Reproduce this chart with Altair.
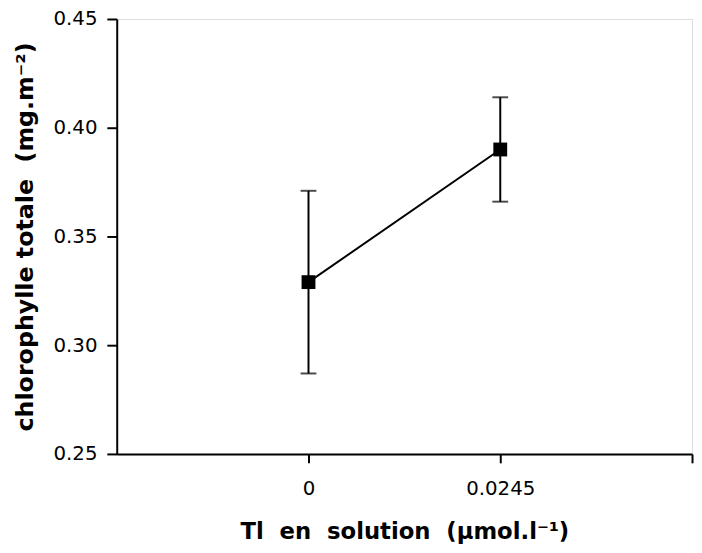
import altair as alt
import pandas as pd

# data
x_pos = [1, 2]
x_labels = ["0", "0.0245"]
means = [0.329, 0.390]
lower = [0.287, 0.366]
upper = [0.371, 0.414]

df = pd.DataFrame({"x": x_pos, "label": x_labels, "mean": means, "lo": lower, "hi": upper})

FONT = "DejaVu Sans"
NB = "\u00a0"

x_enc = alt.X(
    "x:Q",
    scale=alt.Scale(domain=[0, 3], nice=False, zero=False),
    axis=alt.Axis(
        values=[1, 2, 3],
        labelExpr="datum.value == 1 ? '0' : (datum.value == 2 ? '0.0245' : '')",
        title=f"Tl{NB} en{NB} solution{NB} (µmol.l⁻¹)",
        grid=False,
        domainColor="black",
        domainWidth=2,
        tickColor="black",
        tickWidth=2,
        tickSize=9,
        labelPadding=16,
        labelFont=FONT,
        labelFontSize=20,
        labelColor="black",
        titleFont=FONT,
        titleFontSize=23,
        titleFontWeight="bold",
        titleColor="black",
        titlePadding=23,
    ),
)

y_axis = alt.Axis(
    values=[0.25, 0.30, 0.35, 0.40, 0.45],
    format=".2f",
    title=f"chlorophylle totale{NB} (mg.m⁻²)",
    grid=False,
    domainColor="black",
    domainWidth=2,
    tickColor="black",
    tickWidth=2,
    tickSize=10,
    labelPadding=10,
    labelFont=FONT,
    labelFontSize=20,
    labelColor="black",
    titleFont=FONT,
    titleFontSize=24,
    titleFontWeight="bold",
    titleColor="black",
    titlePadding=16,
)
y_scale = alt.Scale(domain=[0.25, 0.45], nice=False, zero=False)

base = alt.Chart(df)

line = base.mark_line(color="black", strokeWidth=2).encode(
    x=x_enc,
    y=alt.Y("mean:Q", scale=y_scale, axis=y_axis),
)

bars = base.mark_rule(color="black", strokeWidth=2).encode(
    x="x:Q",
    y="lo:Q",
    y2="hi:Q",
)

caps_hi = base.mark_tick(orient="horizontal", color="black", size=16, thickness=2).encode(
    x="x:Q", y="hi:Q"
)
caps_lo = base.mark_tick(orient="horizontal", color="black", size=16, thickness=2).encode(
    x="x:Q", y="lo:Q"
)

points = base.mark_square(color="black", size=196, opacity=1, filled=True).encode(
    x="x:Q", y="mean:Q"
)

chart = (
    alt.layer(bars, caps_hi, caps_lo, line, points)
    .properties(
        width=582,
        height=440,
        autosize=alt.AutoSizeParams(type="none"),
        padding={"left": 110, "top": 8, "right": 2, "bottom": 89},
    )
    .configure_view(stroke=None)
    .configure(background="white")
)

chart.save("out.html", embed_options={"renderer": "svg", "actions": False})
